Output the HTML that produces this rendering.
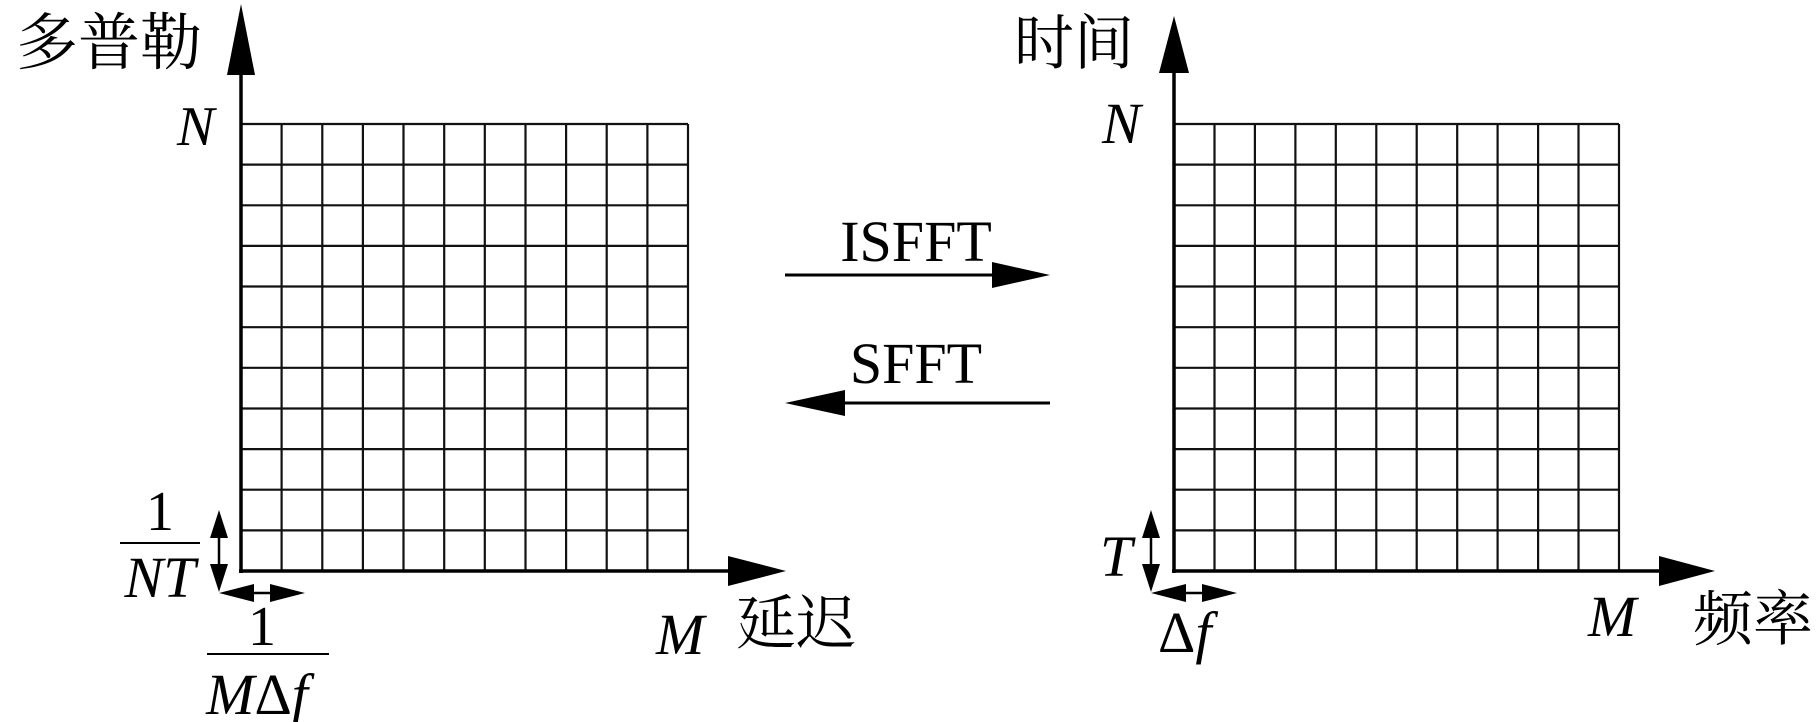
<!DOCTYPE html>
<html><head><meta charset="utf-8"><style>
html,body{margin:0;padding:0;background:#fff;}
svg{display:block}
.cj{font-family:"Liberation Serif","Noto Serif CJK SC",serif;}
.it{font-family:"Liberation Serif",serif;font-style:italic;}
.rm{font-family:"Liberation Serif",serif;}
</style></head><body>
<svg width="1819" height="722" viewBox="0 0 1819 722" xmlns="http://www.w3.org/2000/svg">
<g stroke="#111" stroke-width="2.2" fill="none">
<path d="M241 124H688M241 164.6H688M241 205.3H688M241 245.9H688M241 286.5H688M241 327.2H688M241 367.8H688M241 408.5H688M241 449.1H688M241 489.7H688M241 530.4H688
M281.6 124V571M322.3 124V571M362.9 124V571M403.5 124V571M444.2 124V571M484.8 124V571M525.5 124V571M566.1 124V571M606.7 124V571M647.4 124V571M688 124V571"/>
<path d="M1174 124H1619M1174 164.6H1619M1174 205.3H1619M1174 245.9H1619M1174 286.5H1619M1174 327.2H1619M1174 367.8H1619M1174 408.5H1619M1174 449.1H1619M1174 489.7H1619M1174 530.4H1619
M1214.5 124V571M1254.9 124V571M1295.4 124V571M1335.8 124V571M1376.3 124V571M1416.7 124V571M1457.2 124V571M1497.6 124V571M1538.1 124V571M1578.5 124V571M1619 124V571"/>
</g>
<line x1="241" y1="60" x2="241" y2="573" stroke="#000" stroke-width="3.5"/>
<polygon points="241,4 227,75 255,75" fill="#000"/>
<line x1="239" y1="571" x2="735" y2="571" stroke="#000" stroke-width="3.5"/>
<polygon points="786,571 728,556 728,586" fill="#000"/>
<line x1="1174" y1="60" x2="1174" y2="573" stroke="#000" stroke-width="3.5"/>
<polygon points="1174,16 1159,73 1189,73" fill="#000"/>
<line x1="1172" y1="571" x2="1665" y2="571" stroke="#000" stroke-width="3.5"/>
<polygon points="1715,571 1659,556 1659,586" fill="#000"/>
<!-- middle arrows -->
<line x1="785" y1="275" x2="1000" y2="275" stroke="#000" stroke-width="3"/>
<polygon points="1050,275 992,262 992,288" fill="#000"/>
<line x1="835" y1="403" x2="1050" y2="403" stroke="#000" stroke-width="3"/>
<polygon points="785,403 845,390 845,416" fill="#000"/>
<text x="916" y="261" class="rm" font-size="58" text-anchor="middle">ISFFT</text>
<text x="916" y="383" class="rm" font-size="58" text-anchor="middle">SFFT</text>
<!-- left labels -->
<text x="16" y="64" class="cj" font-size="62">多普勒</text>
<text x="177" y="145" class="it" font-size="56">N</text>
<text x="160" y="530" class="rm" font-size="56" text-anchor="middle">1</text>
<line x1="120" y1="543" x2="200" y2="543" stroke="#000" stroke-width="2"/>
<text x="160" y="597" class="it" font-size="58" text-anchor="middle">NT</text>
<line x1="219" y1="525" x2="219" y2="578" stroke="#000" stroke-width="2.5"/>
<polygon points="219,510 210,538 228,538" fill="#000"/>
<polygon points="219,592 210,564 228,564" fill="#000"/>
<line x1="233" y1="593" x2="291" y2="593" stroke="#000" stroke-width="2.5"/>
<polygon points="219,593 254,584 254,602" fill="#000"/>
<polygon points="305,593 270,584 270,602" fill="#000"/>
<text x="262" y="645" class="rm" font-size="56" text-anchor="middle">1</text>
<line x1="207" y1="654" x2="329" y2="654" stroke="#000" stroke-width="2"/>
<text x="257" y="714" class="it" font-size="58" text-anchor="middle">M<tspan class="rm" font-style="normal">Δ</tspan>f</text>
<text x="656" y="654" class="it" font-size="58">M</text>
<text x="736" y="644" class="cj" font-size="60">延迟</text>
<!-- right labels -->
<text x="1014" y="64" class="cj" font-size="60">时间</text>
<text x="1102" y="143" class="it" font-size="58">N</text>
<text x="1100" y="576" class="it" font-size="58">T</text>
<line x1="1151" y1="525" x2="1151" y2="578" stroke="#000" stroke-width="2.5"/>
<polygon points="1151,510 1142,538 1160,538" fill="#000"/>
<polygon points="1151,592 1142,564 1160,564" fill="#000"/>
<line x1="1165" y1="593" x2="1223" y2="593" stroke="#000" stroke-width="2.5"/>
<polygon points="1151,593 1186,584 1186,602" fill="#000"/>
<polygon points="1237,593 1202,584 1202,602" fill="#000"/>
<text x="1158" y="652" class="rm" font-size="58">Δ<tspan class="it">f</tspan></text>
<text x="1588" y="636" class="it" font-size="58">M</text>
<text x="1693" y="640" class="cj" font-size="60">频率</text>
</svg>
</body></html>
